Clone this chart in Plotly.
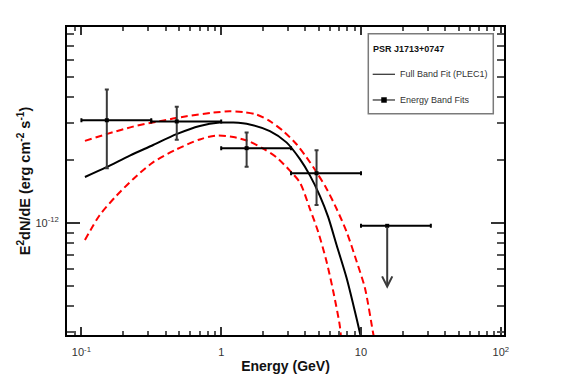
import math
import plotly.graph_objects as go

# ---------------- data ----------------
band_e = [0.152, 0.481, 1.52, 4.81]
band_e_lo = [0.1, 0.316, 1.0, 3.16]
band_e_hi = [0.316, 1.0, 3.16, 10.0]
band_flux = [3.10e-12, 3.06e-12, 2.28e-12, 1.73e-12]
band_flux_hi = [4.35e-12, 3.60e-12, 2.71e-12, 2.23e-12]
band_flux_lo = [1.83e-12, 2.50e-12, 1.86e-12, 1.22e-12]

ul_e = [15.4]
ul_e_lo = [10.0]
ul_e_hi = [31.6]
ul_flux = [0.97e-12]
ul_arrow_to = [4.85e-13]

fit_e = [0.106, 0.151, 0.222, 0.326, 0.479, 0.703, 0.977, 1.22, 1.60, 2.23,
         2.93, 3.66, 4.31, 5.08, 5.82, 6.69, 7.89, 9.04, 9.82, 10.23]
fit_flux = [1.66e-12, 1.85e-12, 2.10e-12, 2.36e-12, 2.66e-12, 2.91e-12, 3.02e-12,
            3.02e-12, 2.96e-12, 2.75e-12, 2.43e-12, 2.02e-12, 1.69e-12, 1.35e-12,
            1.07e-12, 7.85e-13, 5.46e-13, 3.79e-13, 2.99e-13, 2.66e-13]

upper_e = [0.106, 0.151, 0.234, 0.363, 0.565, 0.875, 1.15, 1.44, 1.79, 2.23,
           2.78, 3.46, 4.08, 4.81, 5.67, 6.69, 7.89, 9.31, 10.67, 12.2, 12.5]
upper_flux = [2.47e-12, 2.66e-12, 2.89e-12, 3.07e-12, 3.24e-12, 3.37e-12, 3.42e-12,
              3.39e-12, 3.30e-12, 3.07e-12, 2.75e-12, 2.38e-12, 2.06e-12, 1.75e-12,
              1.46e-12, 1.17e-12, 9.08e-13, 6.55e-13, 4.89e-13, 2.99e-13, 2.75e-13]

lower_e = [0.106, 0.135, 0.178, 0.234, 0.325, 0.479, 0.703, 0.925, 1.22, 1.60,
           2.00, 2.49, 3.10, 3.66, 4.31, 4.94, 5.67, 6.33, 7.06, 7.2]
lower_flux = [8.29e-13, 1.09e-12, 1.35e-12, 1.62e-12, 1.95e-12, 2.25e-12, 2.51e-12,
              2.62e-12, 2.58e-12, 2.45e-12, 2.27e-12, 2.06e-12, 1.78e-12, 1.56e-12,
              1.17e-12, 9.08e-13, 6.55e-13, 4.72e-13, 3.22e-13, 2.80e-13]

x_tickvals = [0.1, 1, 10, 100]
x_ticktext = ["10<sup>-1</sup>", "1", "10", "10<sup>2</sup>"]
y_tickvals = [1e-12]
y_ticktext = ["10<sup>-12</sup>"]

legend_title = "PSR J1713+0747"
legend_fit = "Full Band Fit (PLEC1)"
legend_bands = "Energy Band Fits"

# ---------------- figure ----------------
# the page body adds an 8 px offset, so the figure is drawn 8 px smaller
OFF = 8
W, H = 567 - OFF, 384 - OFF
ML, MR, MT, MB = 59, 63, 19, 46
PW, PH = W - ML - MR, H - MT - MB


def px(p):
    # p: pixel position in the 567x384 window
    return (p - OFF - ML) / PW


def py(p):
    return (H - MB - (p - OFF)) / PH


FONT = "Liberation Sans, Arial, Helvetica, sans-serif"
BAR_GRAY = "#3a3a3a"

fig = go.Figure()

fig.add_trace(go.Scatter(x=lower_e, y=lower_flux, mode="lines", showlegend=False,
                         line=dict(color="#ff0000", width=2, dash="7px,4px", shape="spline", smoothing=0.8)))
fig.add_trace(go.Scatter(x=upper_e, y=upper_flux, mode="lines", showlegend=False,
                         line=dict(color="#ff0000", width=2, dash="7px,4px", shape="spline", smoothing=0.8)))
fig.add_trace(go.Scatter(x=fit_e, y=fit_flux, mode="lines", showlegend=False,
                         line=dict(color="#000000", width=2, shape="spline", smoothing=0.8)))

fig.add_trace(go.Scatter(
    x=band_e, y=band_flux, mode="markers", showlegend=False,
    marker=dict(symbol="square", size=4, color="#000000"),
    error_x=dict(type="data", symmetric=False,
                 array=[h - e for h, e in zip(band_e_hi, band_e)],
                 arrayminus=[e - l for e, l in zip(band_e, band_e_lo)],
                 color="#000000", thickness=2, width=2),
    error_y=dict(type="data", symmetric=False,
                 array=[h - f for h, f in zip(band_flux_hi, band_flux)],
                 arrayminus=[f - l for f, l in zip(band_flux, band_flux_lo)],
                 color=BAR_GRAY, thickness=2, width=2),
))

fig.add_trace(go.Scatter(
    x=ul_e, y=ul_flux, mode="markers", showlegend=False,
    marker=dict(symbol="square", size=4, color="#000000"),
    error_x=dict(type="data", symmetric=False,
                 array=[h - e for h, e in zip(ul_e_hi, ul_e)],
                 arrayminus=[e - l for e, l in zip(ul_e, ul_e_lo)],
                 color="#000000", thickness=2, width=2),
))

for e, f, t in zip(ul_e, ul_flux, ul_arrow_to):
    fig.add_annotation(x=math.log10(e), y=math.log10(t), ax=math.log10(e), ay=math.log10(f),
                       xref="x", yref="y", axref="x", ayref="y", text="",
                       showarrow=True, arrowhead=5, arrowsize=1, arrowwidth=2,
                       arrowcolor=BAR_GRAY)

# ---------------- custom legend box ----------------
shapes = [
    dict(type="rect", xref="paper", yref="paper", x0=px(368.3), x1=px(493.3),
         y0=py(114.7), y1=py(33.7), line=dict(color="#7a7a7a", width=1.5),
         fillcolor="white", layer="above"),
    dict(type="line", xref="paper", yref="paper", x0=px(372.7), x1=px(395),
         y0=py(74.7), y1=py(74.7), line=dict(color="#000000", width=1), layer="above"),
    dict(type="line", xref="paper", yref="paper", x0=px(372.7), x1=px(395),
         y0=py(100.7), y1=py(100.7), line=dict(color="#000000", width=1), layer="above"),
    dict(type="rect", xref="paper", yref="paper", x0=px(381.5), x1=px(386.5),
         y0=py(103.2), y1=py(98.2), line=dict(color="#000000", width=0.5),
         fillcolor="#000000", layer="above"),
]
fig.update_layout(shapes=shapes)

fig.add_annotation(x=px(371), y=py(49), xref="paper", yref="paper", text="<b>" + legend_title + "</b>",
                   showarrow=False, xanchor="left", yanchor="middle",
                   font=dict(size=9, color="#111111", family=FONT))
fig.add_annotation(x=px(398), y=py(74.7), xref="paper", yref="paper", text=legend_fit,
                   showarrow=False, xanchor="left", yanchor="middle",
                   font=dict(size=9, color="#333333", family=FONT))
fig.add_annotation(x=px(398), y=py(100.7), xref="paper", yref="paper", text=legend_bands,
                   showarrow=False, xanchor="left", yanchor="middle",
                   font=dict(size=9, color="#333333", family=FONT))

fig.update_layout(
    width=W, height=H,
    margin=dict(l=ML, r=MR, t=MT, b=MB),
    paper_bgcolor="white", plot_bgcolor="white",
    font=dict(family=FONT, color="#333333"),
    showlegend=False,
)

fig.update_xaxes(
    type="log", range=[-1.103, 2.023],
    showline=True, linecolor="#000000", linewidth=2, mirror="ticks",
    showgrid=False, zeroline=False,
    ticks="inside", ticklen=8, tickwidth=1.5, tickcolor="#333333",
    tickvals=x_tickvals, ticktext=x_ticktext,
    tickfont=dict(size=11, color="#333333"),
    ticklabelstandoff=6,
    minor=dict(ticks="inside", ticklen=4, tickwidth=1.5, tickcolor="#555555", dtick="D1", showgrid=False),
    title=dict(text="<b>Energy (GeV)</b>", font=dict(size=14, color="#111111"), standoff=4),
)
fig.update_yaxes(
    type="log", range=[-12.535, -11.063],
    showline=True, linecolor="#000000", linewidth=2, mirror="ticks",
    showgrid=False, zeroline=False,
    ticks="inside", ticklen=13, tickwidth=1.5, tickcolor="#333333",
    tickvals=y_tickvals, ticktext=y_ticktext,
    tickfont=dict(size=11, color="#333333"),
    ticklabelstandoff=4,
    minor=dict(ticks="inside", ticklen=7, tickwidth=1.5, tickcolor="#555555", dtick="D1", showgrid=False),
    title=dict(text="<b>E<sup>2</sup>dN/dE (erg cm<sup>-2</sup> s<sup>-1</sup>)</b>",
               font=dict(size=14.5, color="#111111"), standoff=1),
)

fig.write_html("out.html")
